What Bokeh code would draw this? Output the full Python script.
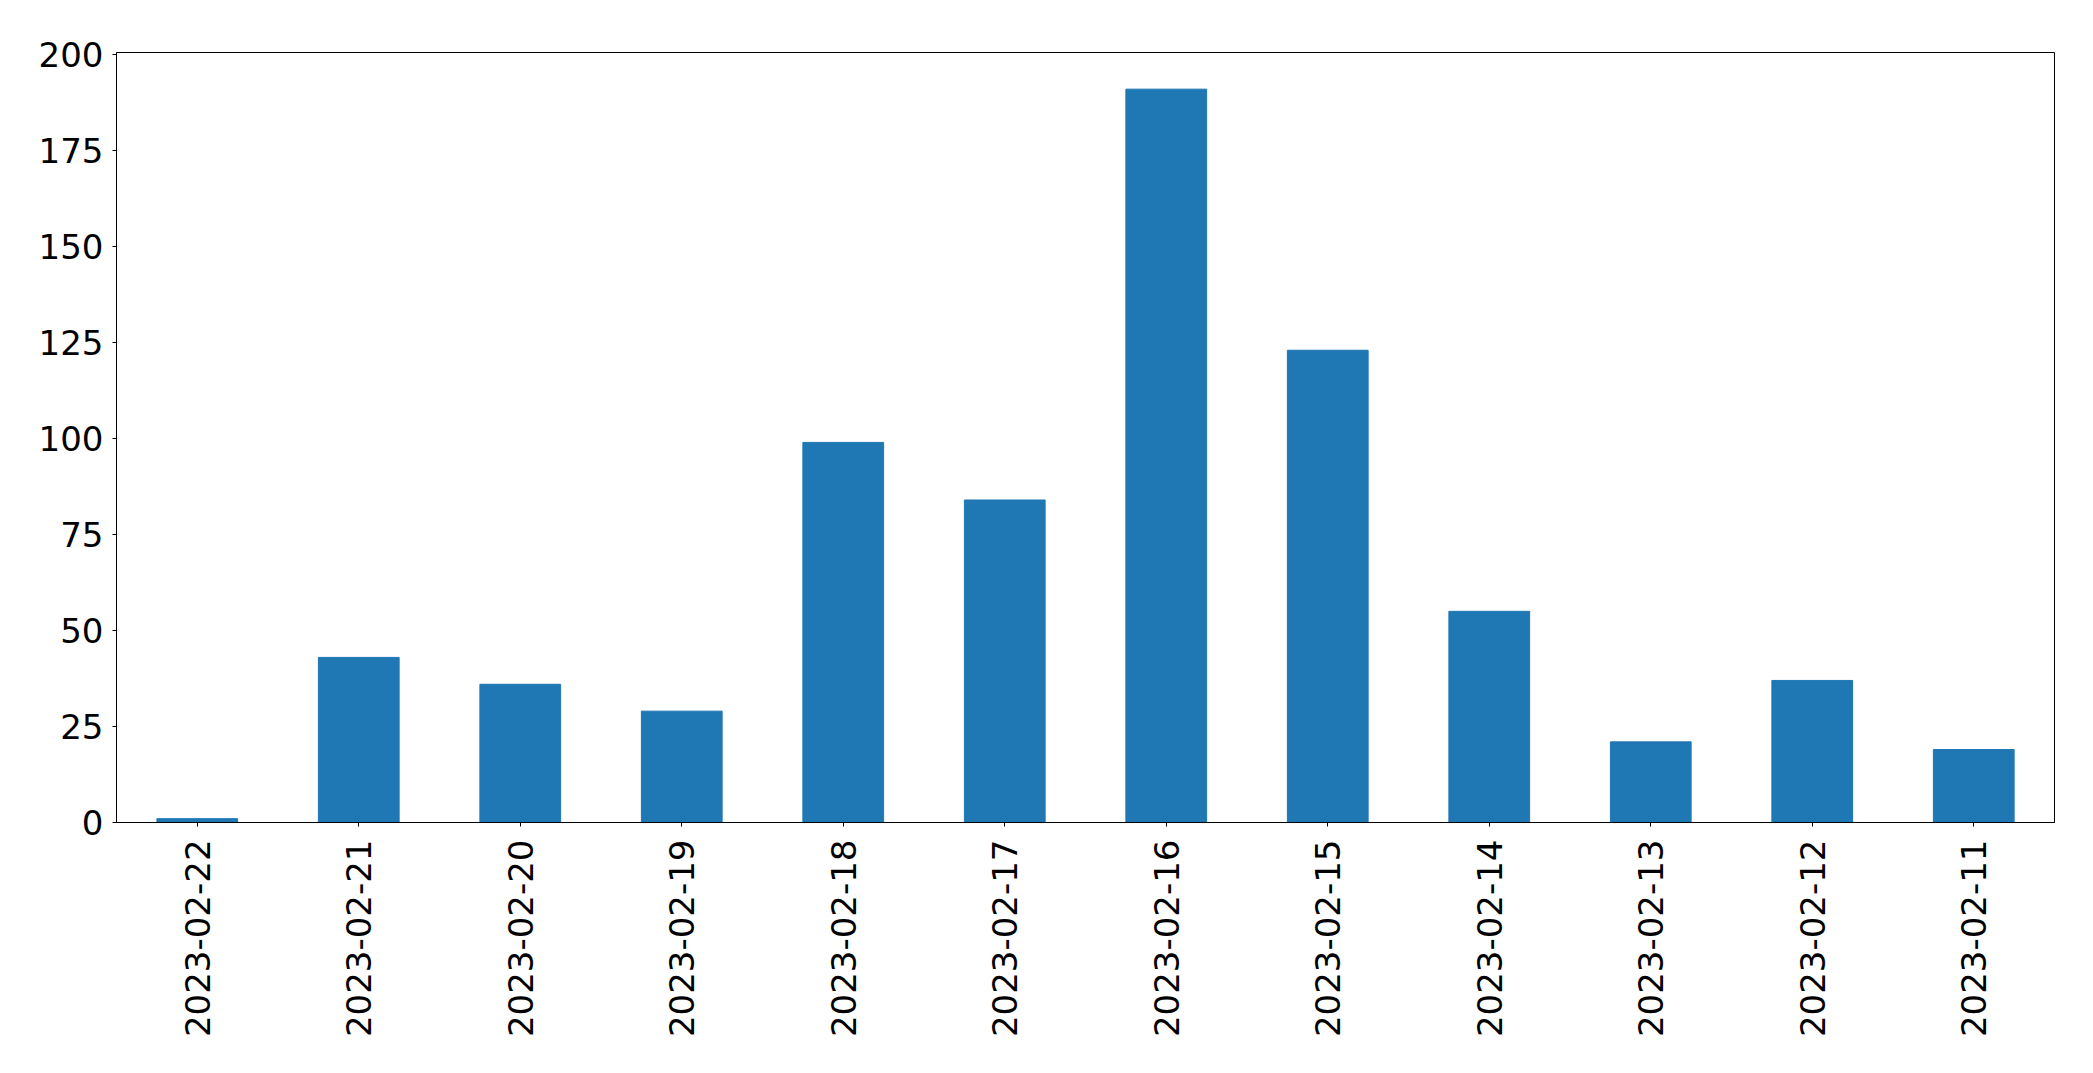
import math
from bokeh.plotting import figure
from bokeh.models import Range1d, FixedTicker
from bokeh.embed import file_html
from bokeh.resources import INLINE

dates = ["2023-02-22", "2023-02-21", "2023-02-20", "2023-02-19", "2023-02-18", "2023-02-17",
         "2023-02-16", "2023-02-15", "2023-02-14", "2023-02-13", "2023-02-12", "2023-02-11"]
counts = [1, 43, 36, 29, 99, 84, 191, 123, 55, 21, 37, 19]
y_ticks = [0, 25, 50, 75, 100, 125, 150, 175, 200]

p = figure(x_range=dates, y_range=Range1d(0, max(counts) * 1.05),
           frame_width=1938, frame_height=770,
           min_border_left=116, min_border_top=52, min_border_right=31, min_border_bottom=200,
           output_backend="svg", toolbar_location=None)

p.vbar(x=dates, top=counts, width=0.5, color="#1f77b4")

p.xgrid.visible = False
p.ygrid.visible = False
p.outline_line_color = "black"
p.outline_line_alpha = 1
p.outline_line_width = 1

p.yaxis.ticker = FixedTicker(ticks=y_ticks)
for ax in (p.xaxis[0], p.yaxis[0]):
    ax.major_label_text_font = "DejaVu Sans"
    ax.major_label_text_font_size = "34px"
    ax.major_label_text_color = "black"
    ax.axis_line_color = "black"
    ax.major_tick_line_color = "black"
    ax.major_tick_out = 4
    ax.major_tick_in = 0
    ax.minor_tick_line_color = None
p.yaxis.major_label_standoff = 9
p.xaxis.major_label_standoff = 13
p.xaxis.major_label_orientation = math.pi / 2

open("out.html", "w").write(file_html(p, INLINE))
